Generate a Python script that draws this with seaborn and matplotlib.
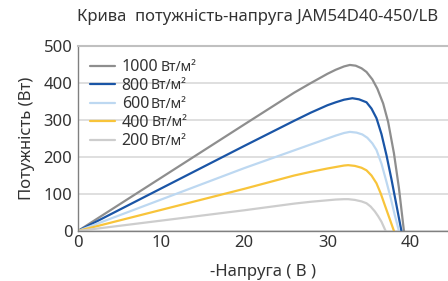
import pandas as pd
import matplotlib
matplotlib.use("Agg")
import matplotlib.pyplot as plt
import seaborn as sns

# P-V curves, (voltage V, power W)
v_1000 = [0, 10, 20, 26, 28, 30, 31, 32, 32.7, 33.4, 34.1, 34.7, 35.4, 36, 36.7, 37.3, 38, 38.6, 39.2]
p_1000 = [0, 144, 288, 374, 400, 425, 436, 445, 449, 447, 440, 430, 410, 385, 345, 295, 210, 116, 0]
v_800 = [0, 10, 20, 26, 28, 30, 31, 32, 33, 33.8, 34.7, 35.3, 35.9, 36.5, 37.1, 37.7, 38.3, 38.9]
p_800 = [0, 115, 230, 298, 320, 340, 348, 355, 359, 356, 348, 331, 305, 262, 205, 140, 70, 0]
v_600 = [0, 10, 20, 26, 28, 30, 31, 32, 32.7, 33.5, 34.2, 34.8, 35.4, 35.9, 36.5, 37.1, 37.6, 38.1, 38.6]
p_600 = [0, 85, 170, 218, 234, 250, 258, 265, 268, 266, 261, 252, 237, 219, 182, 133, 90, 43, 0]
v_400 = [0, 10, 20, 26, 28, 30, 31, 32, 32.5, 33.3, 34.1, 34.7, 35.3, 35.9, 36.4, 36.9, 37.5, 38.0]
p_400 = [0, 57, 114, 150, 160, 169, 173, 177, 178, 176, 171, 164, 150, 129, 102, 70, 32, 0]
v_200 = [0, 10, 20, 26, 28, 30, 31, 32, 32.5, 33.3, 34.1, 34.7, 35.2, 35.7, 36.1, 36.5, 37.0]
p_200 = [0, 28, 56, 74, 79, 83, 85, 86, 86, 84, 80, 75, 66, 53, 40, 25, 0]

irradiance = ["1000", "800", "600", "400", "200"]
unit = "Вт/м²"
colors = ["#8e8e8e", "#1a55a6", "#bdd8f1", "#f8c43a", "#cdcdcd"]

frames = []
for g, v, p in zip(irradiance, [v_1000, v_800, v_600, v_400, v_200],
                   [p_1000, p_800, p_600, p_400, p_200]):
    frames.append(pd.DataFrame({"V": v, "P": p, "G": g}))
df = pd.concat(frames, ignore_index=True)

sns.set_style("white")
plt.rcParams["font.family"] = ["Noto Sans", "DejaVu Sans"]
plt.rcParams["lines.solid_joinstyle"] = "round"

fig = plt.figure(figsize=(4.48, 2.81), dpi=100)
ax = fig.add_axes([0.174, 0.178, 0.826, 0.658])

sns.lineplot(data=df, x="V", y="P", hue="G", palette=colors, ax=ax,
             linewidth=1.6, sort=False, estimator=None)

ax.set_xlim(0, 44.5)
ax.set_ylim(0, 500)
ax.set_xticks([0, 10, 20, 30, 40])
ax.set_yticks([0, 100, 200, 300, 400, 500])
ax.yaxis.grid(True, color="#d9d9d9", linewidth=1.2)
ax.set_axisbelow(True)
for s in ["left", "bottom"]:
    ax.spines[s].set_color("#808080")
    ax.spines[s].set_linewidth(1.0)
ax.spines["top"].set_color("#c0c0c0")
ax.spines["top"].set_linewidth(1.5)
ax.spines["right"].set_visible(False)
ax.tick_params(axis="x", direction="in", length=4, color="#808080",
               labelsize=12, pad=3)
ax.tick_params(axis="y", length=0, labelsize=12, pad=4)
for lab in ax.get_xticklabels() + ax.get_yticklabels():
    lab.set_color("#333333")

ax.set_xlabel("-Напруга ( В )", fontsize=12, color="#333333", labelpad=9)
ax.set_ylabel("Потужність (Вт)", fontsize=12, color="#333333", labelpad=6)
fig.text(0.575, 0.94, "Крива  потужність-напруга JAM54D40-450/LB",
         ha="center", va="center", fontsize=12, color="#333333")

leg = ax.legend(loc="upper left", frameon=False, fontsize=11.5,
                handlelength=1.56, handletextpad=0.44, labelspacing=0.16,
                bbox_to_anchor=(0.032, 0.929), borderaxespad=0, borderpad=0)
for t in leg.get_texts():
    t.set_color("#333333")

# smaller unit text after each legend number
fig.canvas.draw()
for t in leg.get_texts():
    bb = t.get_window_extent()
    fig.text(bb.x1 + 2, bb.y0 + 0.5 * bb.height, unit, transform=None,
             ha="left", va="center", fontsize=10, color="#333333")

fig.savefig("out.png", dpi=100)
